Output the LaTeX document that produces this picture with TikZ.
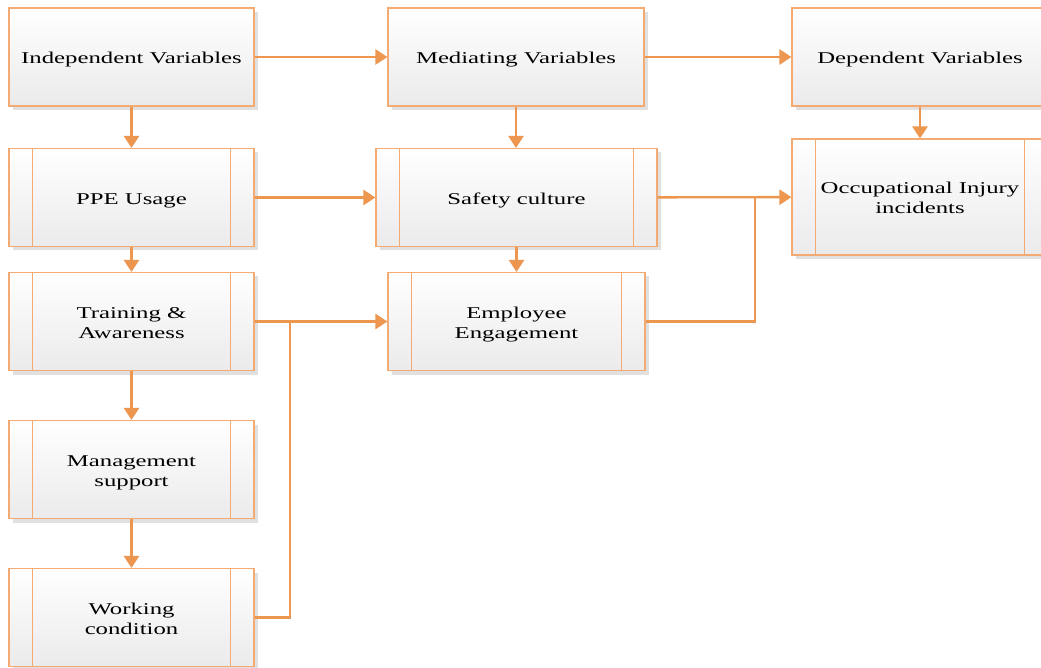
\documentclass[tikz,border=0pt]{standalone}
\usepackage{fontspec}
\setmainfont{Liberation Serif}[FakeStretch=1.5]
\usetikzlibrary{arrows.meta,shadows}
\definecolor{boxedge}{RGB}{244,170,115}
\definecolor{flow}{RGB}{237,150,80}
% centred text block for the boxes, set a little lower than its bounding box
\newcommand{\boxtext}[1]{\raisebox{-3pt}[\height][\depth]{\begin{tabular}{@{}c@{}}#1\end{tabular}}}
\tikzset{
  x=1pt, y=-1pt,
  every node/.style={font=\fontsize{16.5}{20}\selectfont},
  boxbase/.style={draw=boxedge, line width=1.1pt,
    top color=white, bottom color=black!8,
    drop shadow={shadow xshift=4pt, shadow yshift=-4pt, fill=black!12, opacity=1},
    minimum height=98pt, inner sep=0pt},
  varbox/.style={boxbase},
  procbox/.style={boxbase},
  divider/.style={draw=boxedge, line width=1.1pt},
  arr/.style={draw=flow, line width=2.4pt, -{Triangle[length=12pt,width=15pt]}},
  link/.style={draw=flow, line width=2.4pt},
}
\begin{document}
\begin{tikzpicture}
\clip (0,0) rectangle (1041,668);
\fill[white] (0,0) rectangle (1041,668);

% headers
\node[varbox, minimum width=245pt] (iv) at (131.5,57) {\boxtext{Independent Variables}};
\node[varbox, minimum width=256pt] (mv) at (516,57) {\boxtext{Mediating Variables}};
\node[varbox, minimum width=256pt] (dv) at (920,57) {\boxtext{Dependent Variables}};

% independent factors
\node[procbox, minimum width=245pt] (ppe) at (131.5,197.5) {\boxtext{PPE Usage}};
\node[procbox, minimum width=245pt] (tr) at (131.5,321.5) {\boxtext{Training \&\\Awareness}};
\node[procbox, minimum width=245pt] (mg) at (131.5,469.5) {\boxtext{Management\\support}};
\node[procbox, minimum width=245pt] (wc) at (131.5,617.5) {\boxtext{Working\\condition}};

% mediators
\node[procbox, minimum width=281pt] (sc) at (516.5,197.5) {\boxtext{Safety culture}};
\node[procbox, minimum width=257pt] (ee) at (516.5,321.5) {\boxtext{Employee\\Engagement}};

% outcome
\node[procbox, minimum width=256pt, minimum height=116pt] (oii) at (920,197) {\boxtext{Occupational Injury\\incidents}};

% side bars of the process boxes
\foreach \n in {ppe,tr,mg,wc,sc,ee,oii}{
  \draw[divider] ([xshift=24pt]\n.north west) -- ([xshift=24pt]\n.south west);
  \draw[divider] ([xshift=-24pt]\n.north east) -- ([xshift=-24pt]\n.south east);
}

% flows
\draw[arr] (iv) -- (mv);
\draw[arr] (mv) -- (dv);
\draw[arr] (iv) -- (ppe);
\draw[arr] (mv.south) -- (mv.south |- sc.north);
\draw[arr] (dv) -- (oii);
\draw[arr] (ppe) -- (sc);
\draw[arr] (sc.south) -- (sc.south |- ee.north);
\draw[arr] (ppe) -- (tr);
\draw[arr] (tr) -- (mg);
\draw[arr] (mg) -- (wc);
\draw[arr] (tr) -- (ee);
\draw[arr] (sc) -- (oii);

\coordinate (j1) at (290,321.5);
\coordinate (j2) at (755,197.5);
\draw[link] (wc.east) -| (j1);
\draw[link] (ee.east) -| (j2);
\end{tikzpicture}
\end{document}
